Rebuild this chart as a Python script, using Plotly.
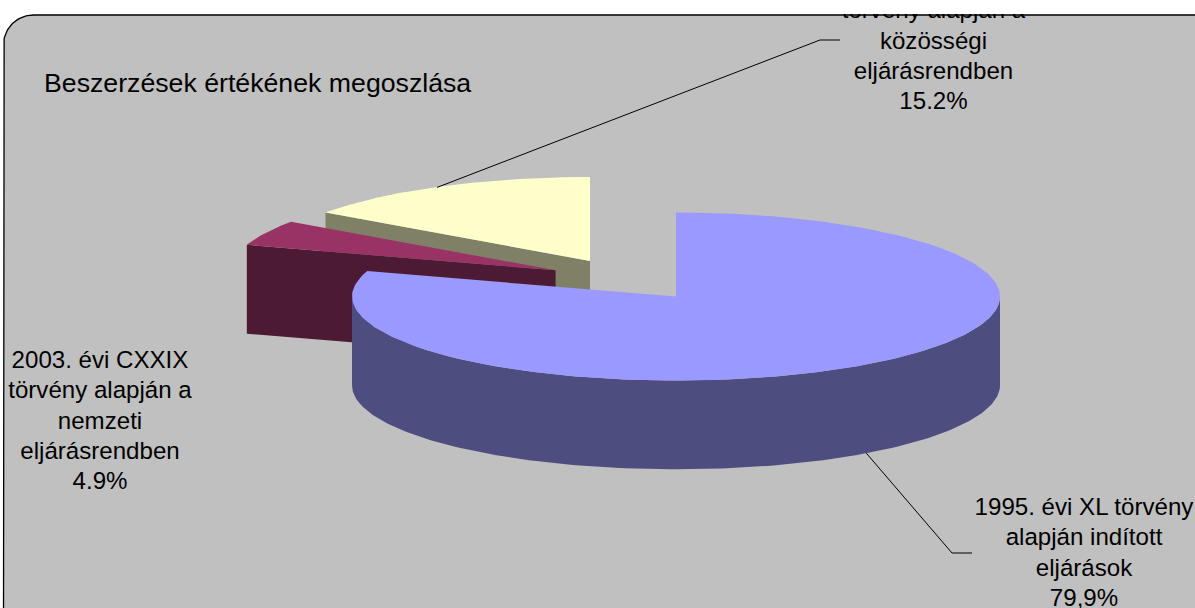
import numpy as np
import plotly.graph_objects as go

# ---- data ----
title_text = "Beszerzések értékének megoszlása"
categories = [["1995. évi XL törvény", "alapján indított", "eljárások"],
              ["2003. évi CXXIX", "törvény alapján a", "nemzeti", "eljárásrendben"],
              ["törvény alapján a", "közösségi", "eljárásrendben"]]
values = [79.9, 4.9, 15.2]
value_labels = ["79,9%", "4.9%", "15.2%"]

# ---- drawing style ----
W, H = 1195, 608
RX, RY, DEPTH = 324, 84, 88.8
centers = [(676, 296.5), (555.6, 270.3), (590, 261)]      # exploded slice centres
top_colors = ["#9999FF", "#993366", "#FFFFCC"]
side_colors = ["#4D4D80", "#4D1A33", "#808066"]
label_pos = [(1084, 509), (100, 362), (933.5, 12.3)]      # centre x, first line y
LINE_STEP = 30.25
FONT = dict(family="Liberation Sans, Arial, sans-serif", size=24.1, color="#000000")
TITLE_FONT = dict(family="Liberation Sans, Arial, sans-serif", size=26.7, color="#000000")
PANEL = "#C0C0C0"


def ell(c, a, dy=0.0):
    """Point on the projected pie rim; a in degrees clockwise from 12 o'clock."""
    r = np.radians(a)
    return c[0] + RX * np.sin(r), c[1] - RY * np.cos(r) + dy


# slice angles from the values
total = sum(values)
edges = np.concatenate([[0], np.cumsum(values)]) / total * 360

fig = go.Figure()

# panel fill and rounded corner
R, L, T = 30, 3.5, 15
corner = np.radians(np.linspace(180, 270, 24))
cx = L + R + R * np.cos(corner)
cy = T + R + R * np.sin(corner)
border_x = [L] + list(cx) + [W + 20]
border_y = [H + 20] + list(cy) + [T]
fig.add_trace(go.Scatter(x=border_x + [W + 20], y=border_y + [H + 20], mode="lines",
                         fill="toself", fillcolor=PANEL, line=dict(width=0), hoverinfo="skip"))

# slices, back to front: yellow, maroon, blue
for i in [2, 1, 0]:
    c = centers[i]
    a0, a1 = edges[i], edges[i + 1]
    if i != 0:
        # visible radial cut face of the rear-left slices
        ox, oy = ell(c, a0)
        fig.add_trace(go.Scatter(x=[c[0], ox, ox, c[0], c[0]],
                                 y=[c[1], oy, oy + DEPTH, c[1] + DEPTH, c[1]],
                                 mode="lines", fill="toself", fillcolor=side_colors[i],
                                 line=dict(width=0), hoverinfo="skip"))
    else:
        # outer rim of the front half
        a = np.linspace(90, 270, 181)
        tx, ty = ell(c, a)
        bx, by = ell(c, a[::-1], DEPTH)
        fig.add_trace(go.Scatter(x=np.concatenate([tx, bx]), y=np.concatenate([ty, by]),
                                 mode="lines", fill="toself", fillcolor=side_colors[i],
                                 line=dict(width=0), hoverinfo="skip"))
    a = np.linspace(a0, a1, 200)
    tx, ty = ell(c, a)
    fig.add_trace(go.Scatter(x=np.concatenate([[c[0]], tx, [c[0]]]),
                             y=np.concatenate([[c[1]], ty, [c[1]]]),
                             mode="lines", fill="toself", fillcolor=top_colors[i],
                             line=dict(width=0), hoverinfo="skip"))

# leader lines, anchored near the slice mid-angles
mid0 = (edges[0] + edges[1]) / 2
mid2 = (edges[2] + edges[3]) / 2
x0, y0 = ell(centers[0], mid0, DEPTH)
x2, y2 = ell(centers[2], mid2)
fig.add_trace(go.Scatter(x=[x0 - 1, 952, 972], y=[y0, 553, 553], mode="lines",
                         line=dict(color="#000000", width=1), hoverinfo="skip"))
fig.add_trace(go.Scatter(x=[x2 - 4, 820, 840], y=[y2 + 1, 40, 40], mode="lines",
                         line=dict(color="#000000", width=1), hoverinfo="skip"))

# labels, one text node per line so the line spacing can follow the reference
for cat, val, (lx, ly) in zip(categories, value_labels, label_pos):
    lines = cat + [val]
    fig.add_trace(go.Scatter(x=[lx] * len(lines),
                             y=[ly + k * LINE_STEP for k in range(len(lines))],
                             mode="text", text=lines,
                             textposition="middle center", textfont=FONT,
                             cliponaxis=True, hoverinfo="skip"))
fig.add_trace(go.Scatter(x=[44], y=[85.5], mode="text", text=[title_text],
                         textposition="middle right", textfont=TITLE_FONT,
                         cliponaxis=True, hoverinfo="skip"))

# border on top of the clipped label
fig.add_trace(go.Scatter(x=border_x, y=border_y, mode="lines",
                         line=dict(color="#000000", width=1.3), hoverinfo="skip"))

fig.update_layout(
    width=W, height=H, margin=dict(l=0, r=0, t=14, b=0),
    paper_bgcolor="#FFFFFF", plot_bgcolor="#FFFFFF", showlegend=False,
    xaxis=dict(range=[0, W], visible=False, fixedrange=True),
    yaxis=dict(range=[H, 14], visible=False, fixedrange=True),
)
fig.write_html("out.html", config={"displayModeBar": False},
               post_script="document.body.style.margin='0';document.body.style.overflow='hidden';")
